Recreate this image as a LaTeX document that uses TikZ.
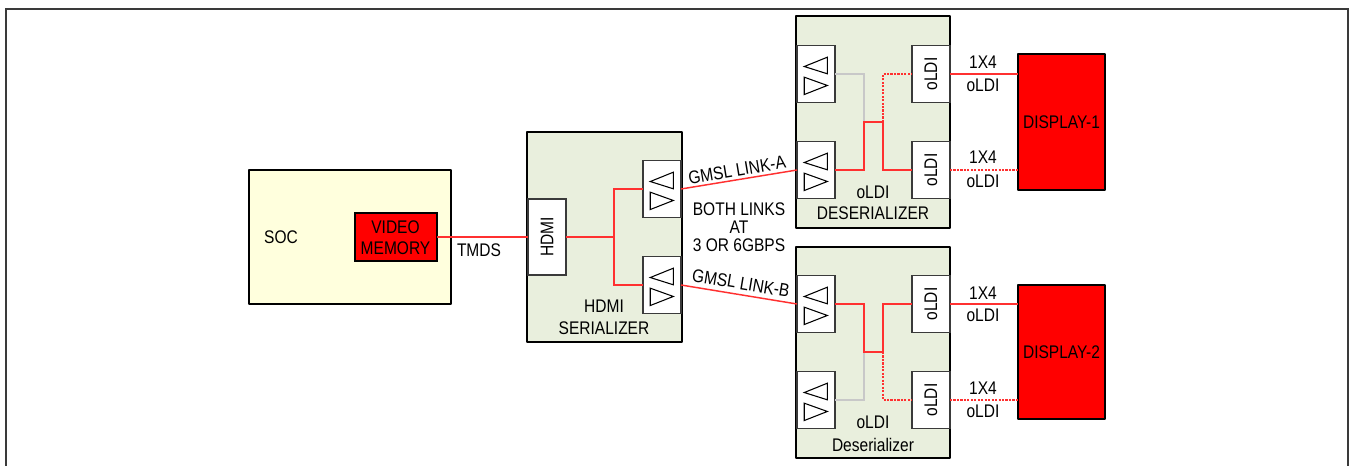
\documentclass[tikz,border=0pt]{standalone}
\usepackage{fontspec}
\setmainfont[FakeStretch=0.85]{Liberation Sans}
\definecolor{paleg}{HTML}{E9EFDD}
\definecolor{paley}{HTML}{FFFFDD}
\definecolor{wire}{HTML}{FF3030}
\definecolor{idle}{HTML}{C8C8C8}
\definecolor{edge}{HTML}{3A3A3A}
\tikzset{
  x=0.75pt,y=-0.75pt,
  txt/.style={inner sep=0pt,font=\fontsize{13.7pt}{14pt}\selectfont,text=black,align=center},
  block/.style={draw=black,line width=2pt,anchor=north west,inner sep=0pt,outer sep=0pt,line join=round},
  port/.style={draw=edge,fill=white,line width=0.9pt,inner sep=0pt,outer sep=0pt,font=\fontsize{13.7pt}{14pt}\selectfont,text=black},
  disp/.style={block,fill=red},
  wired/.style={draw=wire,line width=1.1pt},
  wiredot/.style={draw=wire,line width=1.1pt,dash pattern=on 1.6pt off 1pt},
  wireidle/.style={draw=idle,line width=1.1pt},
  tri/.style={draw=black,line width=0.8pt,line join=miter}
}
% driver box: name, centre x, centre y
\newcommand{\drvbox}[3]{%
  \node[port,minimum width=28.5pt,minimum height=43pt] (#1) at (#2,#3) {};
  \draw[tri] ([xshift=-8.8pt,yshift=5.6pt]#1.center) -- ([xshift=8.5pt,yshift=12.6pt]#1.center) -- ([xshift=8.5pt,yshift=0.15pt]#1.center) -- cycle;
  \draw[tri] ([xshift=-8.8pt,yshift=-2.4pt]#1.center) -- ([xshift=-8.8pt,yshift=-15.4pt]#1.center) -- ([xshift=8.5pt,yshift=-8.6pt]#1.center) -- cycle;
}
\newcommand{\oldibox}[3]{%
  \node[port,minimum width=28.5pt,minimum height=43pt] (#1) at (#2,#3) {\rotatebox{90}{oLDI}};
}
\begin{document}
\begin{tikzpicture}
\useasboundingbox (0,0) rectangle (1350,466);
\draw[draw=edge,line width=1.3pt] (6,466) -- (6,9) -- (1348,9) -- (1348,466);

% blocks
\node[block,fill=paley,minimum width=151.5pt,minimum height=100.5pt] (soc) at (249,170) {};
\node[draw=black,fill=red,line width=0.9pt,anchor=north west,inner sep=0pt,outer sep=0pt,minimum width=61.5pt,minimum height=36pt] (mem) at (355,213) {};
\node[block,fill=paleg,minimum width=116.25pt,minimum height=157.5pt] (ser) at (527,132) {};
\node[block,fill=paleg,minimum width=115.5pt,minimum height=159pt] (des1) at (796,16) {};
\node[block,fill=paleg,minimum width=115.5pt,minimum height=158.25pt] (des2) at (796,247) {};
\node[disp,minimum width=65.25pt,minimum height=102pt] (d1) at (1018,54) {};
\node[disp,minimum width=65.25pt,minimum height=100.5pt] (d2) at (1018,285) {};

% ports
\node[port,minimum width=28.5pt,minimum height=57pt] (hdmi) at (547,237) {\rotatebox{90}{HDMI}};
\drvbox{s1}{662}{189}
\drvbox{s2}{662}{285}
\drvbox{a1}{816}{74}
\drvbox{a2}{816}{170}
\oldibox{r1}{931}{74}
\oldibox{r2}{931}{170}
\drvbox{b1}{816}{304}
\drvbox{b2}{816}{400}
\oldibox{q1}{931}{304}
\oldibox{q2}{931}{400}

% junctions
\coordinate (js) at (614,237);
\coordinate (j1a) at (864,122);
\coordinate (j1b) at (883,122);
\coordinate (j2a) at (864,352);
\coordinate (j2b) at (883,352);

% connectors
\draw[wired] (mem.east) -- (hdmi.west);
\draw[wired] (hdmi.east) -- (js);
\draw[wired] (s1.west) -| (js) |- (s2.west);
\draw[wired] (s1.east) -- (a2.west);
\draw[wired] (s2.east) -- (b1.west);

\draw[wireidle] (a1.east) -| (j1a);
\draw[wiredot] (j1b) |- (r1.west);
\draw[wired] (a2.east) -| (j1a) -- (j1b) |- (r2.west);
\draw[wired] (r1.east) -- (r1.east -| d1.west);
\draw[wiredot] (r2.east) -- (r2.east -| d1.west);

\draw[wireidle] (b2.east) -| (j2a);
\draw[wiredot] (j2b) |- (q2.west);
\draw[wired] (b1.east) -| (j2a) -- (j2b) |- (q1.west);
\draw[wired] (q1.east) -- (q1.east -| d2.west);
\draw[wiredot] (q2.east) -- (q2.east -| d2.west);

% labels
\node[txt] (tsoc) at (281,237) {SOC};
\node[txt] (tvid) at (395.5,237.5) {VIDEO\\[1.75pt]MEMORY};
\node[txt] (ttm) at (479,250) {TMDS};
\node[txt] (tser) at (604,317) {HDMI\\[2.5pt]SERIALIZER};
\node[txt,rotate=9.5] (tla) at (737,170) {GMSL LINK-A};
\node[txt,rotate=-9.5] (tlb) at (741,283) {GMSL LINK-B};
\node[txt] (tboth) at (739,227) {BOTH LINKS\\[-0.5pt]AT\\[-0.5pt]3 OR 6GBPS};
\node[txt] (tda) at (873,192) {oLDI};
\node[txt] (tdb) at (873,213) {DESERIALIZER};
\node[txt] (tdc) at (873,422) {oLDI};
\node[txt] (tdd) at (873,445) {Deserializer};
\node[txt] at (d1.center) {DISPLAY-1};
\node[txt] at (d2.center) {DISPLAY-2};
\node[txt] (t1) at (983,62) {1X4};
\node[txt] (t2) at (983,85) {oLDI};
\node[txt] (t3) at (983,157) {1X4};
\node[txt] (t4) at (983,181) {oLDI};
\node[txt] (t5) at (983,293) {1X4};
\node[txt] (t6) at (983,315) {oLDI};
\node[txt] (t7) at (983,388) {1X4};
\node[txt] (t8) at (983,411) {oLDI};
\end{tikzpicture}
\end{document}
